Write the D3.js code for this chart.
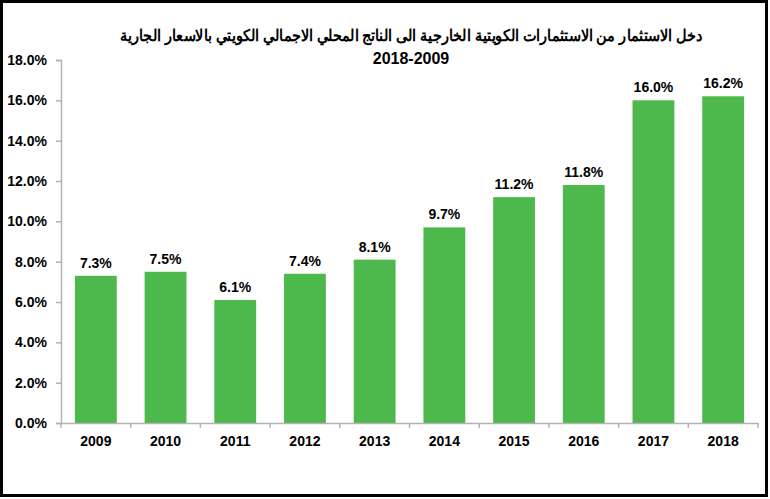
<!DOCTYPE html>
<html>
<head>
<meta charset="utf-8">
<script src="https://cdn.jsdelivr.net/npm/d3@7"></script>
<style>
  html, body { margin: 0; padding: 0; background: #fff; }
  svg text { font-family: "Liberation Sans", Arial, sans-serif; font-weight: bold; fill: #000; }
</style>
</head>
<body>
<div id="chart"></div>
<script>
// chart data
const years = ["2009", "2010", "2011", "2012", "2013", "2014", "2015", "2016", "2017", "2018"];
const values = [7.3, 7.5, 6.1, 7.4, 8.1, 9.7, 11.2, 11.8, 16.0, 16.2];
const yTicks = [0, 2, 4, 6, 8, 10, 12, 14, 16, 18];
const titleLines = ["دخل الاستثمار من الاستثمارات الكويتية الخارجية الى الناتج المحلي الاجمالي الكويتي بالاسعار الجارية", "2018-2009"];

const W = 770, H = 499;
const margin = {top: 60, right: 12, bottom: 76, left: 61};

const svg = d3.select("#chart").append("svg")
    .attr("width", W)
    .attr("height", H);

// outer frame
svg.append("rect")
    .attr("x", 1.5).attr("y", 1.5)
    .attr("width", W - 5).attr("height", H - 5)
    .attr("fill", "#fff")
    .attr("stroke", "#000")
    .attr("stroke-width", 3);

const x = d3.scaleBand()
    .domain(years)
    .range([margin.left, W - margin.right])
    .paddingInner(0.4)
    .paddingOuter(0.2);

const y = d3.scaleLinear()
    .domain([0, 18])
    .range([H - margin.bottom, margin.top]);

// title (first line squeezed to the width of the original)
svg.append("g").selectAll("text")
    .data(titleLines)
    .enter().append("text")
    .attr("x", 411)
    .attr("y", (d, i) => 41 + i * 23)
    .attr("text-anchor", "middle")
    .style("font-size", "16px")
    .attr("direction", (d, i) => i === 0 ? "rtl" : "ltr")
    .each(function(d, i) {
        if (i === 0) d3.select(this).attr("textLength", 582).attr("lengthAdjust", "spacingAndGlyphs");
    })
    .text(d => d);

// bars
svg.append("g").selectAll("rect")
    .data(values)
    .enter().append("rect")
    .attr("x", (d, i) => x(years[i]))
    .attr("y", d => y(d))
    .attr("width", x.bandwidth())
    .attr("height", d => y(0) - y(d))
    .attr("fill", "#4db84b");

// value labels
svg.append("g").selectAll("text")
    .data(values)
    .enter().append("text")
    .attr("x", (d, i) => x(years[i]) + x.bandwidth() / 2)
    .attr("y", d => y(d) - 8)
    .attr("text-anchor", "middle")
    .style("font-size", "14px")
    .text(d => d.toFixed(1) + "%");

// y axis
const yAxis = svg.append("g")
    .attr("transform", `translate(${margin.left},0)`)
    .call(d3.axisLeft(y).tickValues(yTicks).tickSize(5).tickPadding(9)
        .tickFormat(d => d.toFixed(1) + "%"));
yAxis.selectAll("text").style("font-size", "14px");

// x axis, ticks at band boundaries
const xAxis = svg.append("g")
    .attr("transform", `translate(0,${y(0)})`)
    .call(d3.axisBottom(x).tickSize(0).tickPadding(13));
xAxis.selectAll("text").style("font-size", "14px");
const step = x.step();
const bounds = d3.range(years.length + 1).map(i => margin.left + i * step);
xAxis.selectAll(".bound")
    .data(bounds)
    .enter().append("line")
    .attr("class", "bound")
    .attr("x1", d => d).attr("x2", d => d)
    .attr("y1", 0).attr("y2", 5);

svg.selectAll(".domain, .tick line, .bound")
    .attr("stroke", "#b3b3b3")
    .attr("stroke-width", 1.5);
</script>
</body>
</html>
